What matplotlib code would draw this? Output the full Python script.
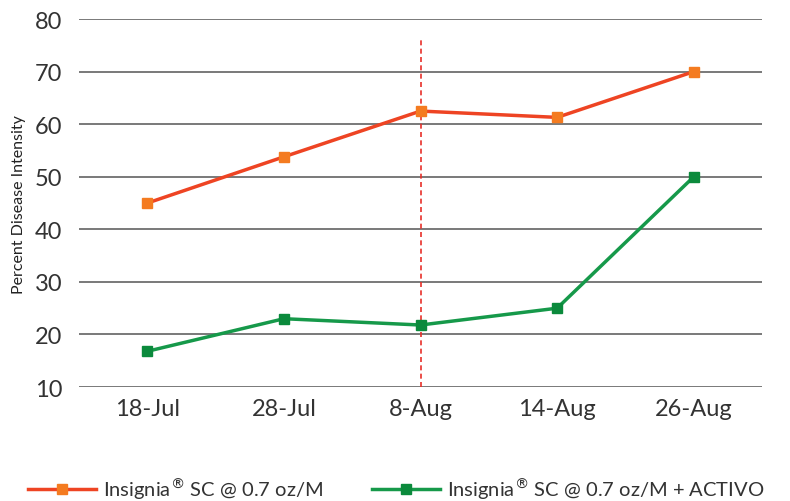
import matplotlib.pyplot as plt

# data
dates = ['18-Jul', '28-Jul', '8-Aug', '14-Aug', '26-Aug']
insignia = [45.0, 53.8, 62.5, 61.3, 70.0]
insignia_activo = [16.8, 23.0, 21.8, 25.0, 50.0]
marker_date = 2  # dashed line at 8-Aug
marker_top = 76.2

plt.rcParams['font.family'] = ['Lato', 'DejaVu Sans']

fig = plt.figure(figsize=(7.9, 5.02), dpi=100)
ax = fig.add_axes([0.1, 0.227, 0.8646, 0.733])

x = list(range(len(dates)))

for y in range(10, 81, 10):
    ax.axhline(y, color='#555555', lw=1.1, zorder=1)

ax.plot([marker_date, marker_date], [10, marker_top], color='#E8302A',
        lw=1.2, ls=(0, (3, 2)), zorder=2)

ax.plot(x, insignia, color='#EE4423', lw=2.5, marker='s', markersize=7.5,
        markerfacecolor='#F47B20', markeredgecolor='#F47B20', zorder=3,
        label='Insignia$^{\u00ae}$ SC @ 0.7 oz/M')
ax.plot(x, insignia_activo, color='#16994A', lw=2.5, marker='s', markersize=7.5,
        markerfacecolor='#0B8A3C', markeredgecolor='#0B8A3C', zorder=3,
        label='Insignia$^{\u00ae}$ SC @ 0.7 oz/M + ACTIVO')

ax.set_xlim(-0.5, 4.5)
ax.set_ylim(10, 80)
ax.set_yticks(range(10, 81, 10))
ax.set_xticks(x)
ax.set_xticklabels(dates)
ax.tick_params(axis='both', length=0, labelsize=17, colors='#333333')
ax.tick_params(axis='x', pad=8)
ax.tick_params(axis='y', pad=12)
for s in ax.spines.values():
    s.set_visible(False)

ax.set_ylabel('Percent Disease Intensity', fontsize=11.5, color='#222222', labelpad=6)

leg = fig.legend(loc='lower left', bbox_to_anchor=(0.012, -0.036), ncol=2,
                 frameon=False, fontsize=14.5, handlelength=3.4, columnspacing=2.4,
                 handletextpad=0.35)
for t in leg.get_texts():
    t.set_color('#333333')

fig.savefig('out.png', dpi=100)
